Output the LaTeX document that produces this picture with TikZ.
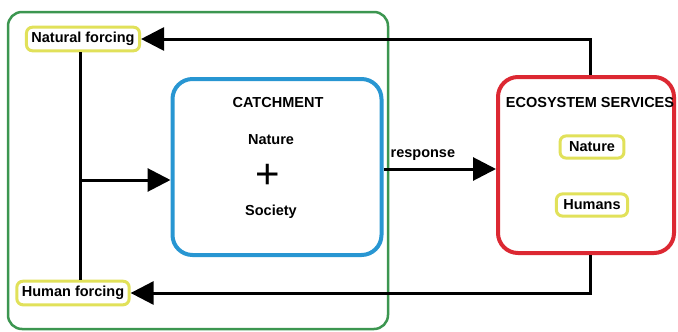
\documentclass[tikz,border=0pt]{standalone}
\usepackage{fontspec}
\setmainfont{Liberation Sans}
\usetikzlibrary{arrows.meta}
\definecolor{gbox}{RGB}{60,150,80}
\definecolor{bbox}{RGB}{40,150,210}
\definecolor{rbox}{RGB}{220,40,50}
\definecolor{ybox}{RGB}{225,225,90}
\begin{document}
\begin{tikzpicture}[x=1pt,y=-1pt,
  lbl/.style={font=\bfseries\fontsize{14.5}{16}\selectfont, inner sep=0pt},
  ynode/.style={draw=ybox, line width=3pt, rounded corners=6pt, fill=white, inner xsep=5pt, inner ysep=5pt, font=\bfseries\fontsize{14.5}{16}\selectfont},
  conn/.style={line width=3pt, -{Triangle[length=23pt,width=23pt]}},
  plain/.style={line width=3pt}]
\useasboundingbox (0,0) rectangle (678,332);
% outer green
\draw[gbox, line width=2.5pt, rounded corners=14pt] (8,12) rectangle (388,329);
% catchment
\node[draw=bbox, line width=4pt, rounded corners=20pt, minimum width=209pt, minimum height=176pt] (catch) at (277,167) {};
\node[lbl] (ct) at (278,103) {CATCHMENT};
\node[lbl] (cn) at (271,140) {Nature};
\node[font=\fontsize{42}{42}\selectfont, inner sep=0pt] (plus) at (268,176) {+};
\node[lbl] (cs) at (271,212) {Society};
% ecosystem
\node[draw=rbox, line width=4pt, rounded corners=20pt, minimum width=176pt, minimum height=176pt] (eco) at (586,165) {};
\node[lbl] (et) at (590,103) {ECOSYSTEM SERVICES};
\node[ynode, inner xsep=9pt, inner ysep=6pt] (en) at (592,147) {Nature};
\node[ynode, inner xsep=7pt, inner ysep=6pt] (eh) at (592,205) {Humans};
% forcings
\node[ynode] (nf) at (83,39) {Natural forcing};
\node[ynode] (hf) at (73,293) {Human forcing};
\coordinate (j) at (80,180);
\draw[plain] (nf.south -| j) -- (hf.north -| j);
\draw[conn] (j) -- (catch.west |- j);
\draw[conn] (catch.east |- 0,169) -- node[above, lbl, pos=0.35, yshift=7pt] {response} (eco.west |- 0,169);
\draw[conn] (eco.north -| 590,0) |- (nf.east);
\draw[conn] (eco.south -| 590,0) |- (hf.east);
\end{tikzpicture}
\end{document}
